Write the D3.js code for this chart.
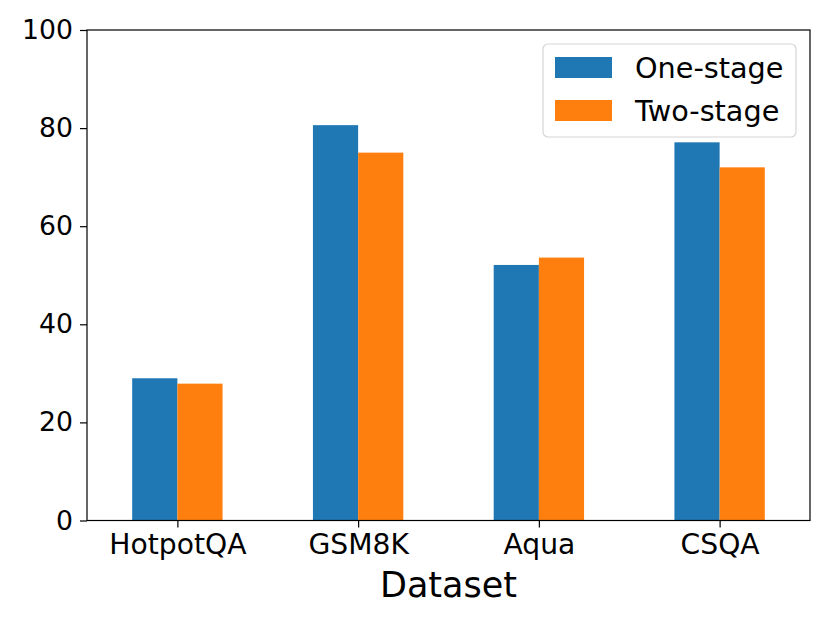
<!DOCTYPE html>
<html>
<head>
<meta charset="utf-8">
<script src="https://cdn.jsdelivr.net/npm/d3@7"></script>
<style>
  body { margin: 0; background: #fff; }
  text { font-family: "DejaVu Sans", sans-serif; fill: #000; }
</style>
</head>
<body>
<div id="chart"></div>
<script>
// values
const datasets = ["HotpotQA", "GSM8K", "Aqua", "CSQA"];
const oneStage = [29.0, 80.6, 52.1, 77.1];
const twoStage = [27.9, 75.0, 53.6, 72.0];
const seriesNames = ["One-stage", "Two-stage"];
const seriesColors = ["#1f77b4", "#ff7f0e"];
const yTicks = [0, 20, 40, 60, 80, 100];

const width = 830, height = 623;
const margin = { top: 30, right: 20, bottom: 102.5, left: 87 };
const innerW = width - margin.left - margin.right;
const innerH = height - margin.top - margin.bottom;

const svg = d3.select("#chart").append("svg")
  .attr("width", width)
  .attr("height", height);

const g = svg.append("g")
  .attr("transform", `translate(${margin.left},${margin.top})`);

// pandas-style: categories at 0..n-1, xlim -0.5..n-0.5
const x = d3.scaleLinear().domain([-0.5, datasets.length - 0.5]).range([0, innerW]);
const y = d3.scaleLinear().domain([0, 100]).range([innerH, 0]);
const barW = 0.25;

const series = [oneStage, twoStage];
series.forEach((vals, s) => {
  g.selectAll(`rect.s${s}`)
    .data(vals)
    .join("rect")
    .attr("class", `s${s}`)
    .attr("x", (d, i) => x(i - barW + s * barW))
    .attr("width", x(barW) - x(0))
    .attr("y", d => y(d))
    .attr("height", d => y(0) - y(d))
    .attr("fill", seriesColors[s]);
});

// y axis
const yAxis = g.append("g")
  .call(d3.axisLeft(y).tickValues(yTicks).tickSize(7).tickPadding(7));
yAxis.selectAll("text").style("font-size", "26.7px");

// x axis
const xAxis = g.append("g")
  .attr("transform", `translate(0,${innerH})`)
  .call(d3.axisBottom(x).tickValues(d3.range(datasets.length))
    .tickFormat(i => datasets[i]).tickSize(7).tickPadding(6));
xAxis.selectAll("text").style("font-size", "28.2px");

[yAxis, xAxis].forEach(a => {
  a.select(".domain").remove();
  a.selectAll("line").attr("stroke", "#000").attr("stroke-width", 1.2);
  a.selectAll("text").attr("font-family", "DejaVu Sans");
});

// frame
g.append("rect")
  .attr("width", innerW).attr("height", innerH)
  .attr("fill", "none").attr("stroke", "#000").attr("stroke-width", 1.2);

// x label
g.append("text")
  .attr("x", innerW / 2)
  .attr("y", innerH + 76)
  .attr("text-anchor", "middle")
  .style("font-size", "35px")
  .text("Dataset");

// legend
const legend = g.append("g").attr("transform", `translate(${543 - margin.left},${44 - margin.top})`);
legend.append("rect")
  .attr("width", 253).attr("height", 93).attr("rx", 5)
  .attr("fill", "#fff").attr("fill-opacity", 0.8)
  .attr("stroke", "#d5d5d5").attr("stroke-width", 1.2);
seriesNames.forEach((name, i) => {
  const row = legend.append("g").attr("transform", `translate(12,${13 + i * 43})`);
  row.append("rect").attr("width", 57).attr("height", 21).attr("fill", seriesColors[i]);
  row.append("text")
    .attr("x", 80).attr("y", 21)
    .style("font-size", "28.7px")
    .text(name);
});
</script>
</body>
</html>
